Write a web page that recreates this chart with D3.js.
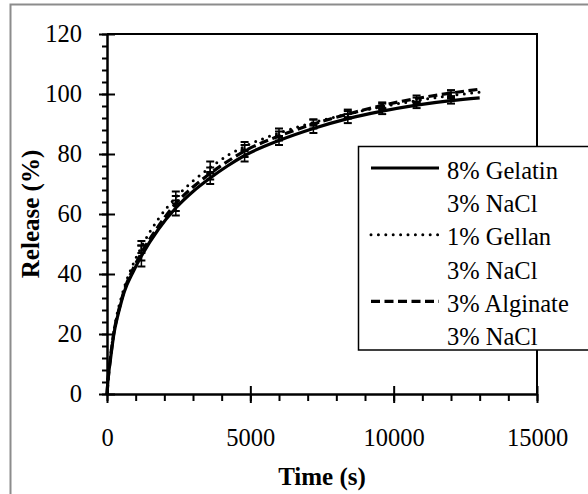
<!DOCTYPE html>
<html>
<head>
<meta charset="utf-8">
<script src="https://cdn.jsdelivr.net/npm/d3@7"></script>
<style>
  body { margin: 0; background: #fff; }
</style>
</head>
<body>
<div id="chart"></div>
<script>
// data
const times = [0, 30, 60, 120, 240, 360, 480, 600, 900, 1200, 1800, 2400, 3000, 3600, 4200, 4800, 6000, 7200, 8400, 9600, 10800, 12000, 13000];
const gelatin  = [0, 4, 7, 11.5, 20, 25.5, 30, 34, 40.5, 46, 55, 62, 67.5, 72, 76, 79.5, 84.5, 88.5, 91.8, 94.3, 96.3, 97.8, 98.7];
const gellan   = [0, 4.5, 7.5, 12.5, 21, 27, 31.5, 35.5, 43, 49, 58.5, 65.5, 71, 75.5, 79.5, 82.5, 87, 90.5, 93.3, 95.8, 97.8, 99.5, 100.6];
const alginate = [0, 4, 7, 12, 20.5, 26, 30.5, 34.5, 41.5, 47, 56, 63.5, 69, 73.5, 77.5, 81, 86, 90, 93.3, 96.2, 98.5, 100.3, 101.6];

const errTimes = [1200, 2400, 3600, 4800, 6000, 7200, 8400, 9600, 10800, 12000];
const gelatinErr  = [3.5, 2.5, 2, 2, 1.5, 1.5, 1.5, 1, 1, 1];
const gellanErr   = [2, 2, 2, 1.5, 1.5, 1, 1, 1, 1, 1];
const alginateErr = [2.5, 2.5, 2, 2, 1.5, 1.5, 1.5, 1, 1, 1];

const legendLabels = [["8% Gelatin", "3% NaCl"], ["1% Gellan", "3% NaCl"], ["3% Alginate", "3% NaCl"]];
const xTicks = [0, 5000, 10000, 15000];
const yTicks = [0, 20, 40, 60, 80, 100, 120];

const FONT = "Liberation Serif, Times New Roman, Times, serif";

const W = 588, H = 494;
const margin = {top: 34, right: 51, bottom: 100, left: 107};
const width = W - margin.left - margin.right,
      height = H - margin.top - margin.bottom;

const root = d3.select("#chart").append("svg")
    .attr("width", W)
    .attr("height", H);

// grey outer frame
root.append("rect")
    .attr("x", 10.5).attr("y", 4.5)
    .attr("width", 600).attr("height", 600)
    .attr("fill", "none")
    .attr("stroke", "#8c8c8c")
    .attr("stroke-width", 2);

const svg = root.append("g")
    .attr("transform", `translate(${margin.left},${margin.top})`);

const x = d3.scaleLinear().domain([0, 15000]).range([0, width]);
const y = d3.scaleLinear().domain([0, 120]).range([height, 0]);

// plot frame (top + right)
svg.append("path")
    .attr("d", `M0,0H${width}V${height}`)
    .attr("fill", "none")
    .attr("stroke", "#000")
    .attr("stroke-width", 2);

// minor ticks
svg.append("g")
    .call(d3.axisLeft(y).tickValues(d3.range(0, 121, 4)).tickSize(5).tickFormat(""))
    .call(g => g.select(".domain").remove())
    .selectAll("line").attr("stroke-width", 2);
svg.append("g")
    .attr("transform", `translate(0,${height})`)
    .call(d3.axisBottom(x).tickValues(d3.range(0, 15001, 1000)).tickSize(7).tickFormat(""))
    .call(g => g.select(".domain").remove())
    .selectAll("line").attr("stroke-width", 2);

// major ticks, crossing the axis
svg.append("g")
    .call(d3.axisRight(y).tickValues(yTicks).tickSize(8).tickFormat(""))
    .call(g => g.select(".domain").remove())
    .selectAll("line").attr("stroke-width", 2);
svg.append("g")
    .attr("transform", `translate(0,${height})`)
    .call(d3.axisTop(x).tickValues(xTicks).tickSize(8).tickFormat(""))
    .call(g => g.select(".domain").remove())
    .selectAll("line").attr("stroke-width", 2);

const yAxis = svg.append("g")
    .call(d3.axisLeft(y).tickValues(yTicks).tickSize(8).tickSizeOuter(0).tickPadding(17));
yAxis.attr("font-family", null).attr("font-size", null);
yAxis.selectAll("text").style("font-family", FONT).style("font-size", "24.5px").style("font-weight", "500");
yAxis.select(".domain").attr("stroke-width", 2.5);
yAxis.selectAll("line").attr("stroke-width", 2);

const xAxis = svg.append("g")
    .attr("transform", `translate(0,${height})`)
    .call(d3.axisBottom(x).tickValues(xTicks).tickFormat(d3.format("d"))
        .tickSize(9).tickSizeOuter(0).tickPadding(26));
xAxis.attr("font-family", null).attr("font-size", null);
xAxis.selectAll("text").style("font-family", FONT).style("font-size", "24.5px").style("font-weight", "500");
xAxis.select(".domain").attr("stroke-width", 2.5);
xAxis.selectAll("line").attr("stroke-width", 2);

// axis titles
svg.append("text")
    .attr("x", width / 2)
    .attr("y", height + 91)
    .attr("text-anchor", "middle")
    .style("font-family", FONT)
    .style("font-size", "25px")
    .style("font-weight", "bold")
    .text("Time (s)");

svg.append("text")
    .attr("transform", `translate(${39 - margin.left},${height / 2}) rotate(-90)`)
    .attr("text-anchor", "middle")
    .style("font-family", FONT)
    .style("font-size", "25px")
    .style("font-weight", "bold")
    .text("Release (%)");

// series
const series = [
    {vals: gelatin, err: gelatinErr, dash: null, cap: "butt", sw: 3.2},
    {vals: gellan, err: gellanErr, dash: "0,7.4", cap: "round", sw: 3},
    {vals: alginate, err: alginateErr, dash: "9,4.5", cap: "butt", sw: 3.2}
];

const line = d3.line()
    .curve(d3.curveMonotoneX)
    .x((d, i) => x(times[i]))
    .y(d => y(d));

series.forEach(s => {
    svg.append("path")
        .datum(s.vals)
        .attr("fill", "none")
        .attr("stroke", "#000")
        .attr("stroke-width", s.sw)
        .attr("stroke-linecap", s.cap)
        .attr("stroke-dasharray", s.dash)
        .attr("d", line);

    const bars = svg.append("g");
    errTimes.forEach((t, i) => {
        const v = s.vals[times.indexOf(t)];
        const e = s.err[i];
        const cx = x(t);
        bars.append("line")
            .attr("x1", cx).attr("x2", cx)
            .attr("y1", y(v - e)).attr("y2", y(v + e))
            .attr("stroke", "#000").attr("stroke-width", 1.5);
        [v - e, v + e].forEach(c => {
            bars.append("line")
                .attr("x1", cx - 4).attr("x2", cx + 4)
                .attr("y1", y(c)).attr("y2", y(c))
                .attr("stroke", "#000").attr("stroke-width", 2);
        });
    });
});

// legend
const lg = root.append("g");
lg.append("rect")
    .attr("x", 358.5).attr("y", 146.5)
    .attr("width", 240).attr("height", 203.5)
    .attr("fill", "#fff")
    .attr("stroke", "#000")
    .attr("stroke-width", 1.5);

series.forEach((s, i) => {
    const cy = 170 + i * 66.7;
    lg.append("line")
        .attr("x1", 371).attr("x2", 439)
        .attr("y1", cy - 2).attr("y2", cy - 2)
        .attr("stroke", "#000")
        .attr("stroke-width", s.sw)
        .attr("stroke-linecap", s.cap)
        .attr("stroke-dasharray", s.dash);
    legendLabels[i].forEach((t, j) => {
        lg.append("text")
            .attr("x", 447)
            .attr("y", cy + j * 33.4 + 8.5)
            .style("font-family", FONT)
            .style("font-size", "24.5px")
            .style("font-weight", "500")
            .text(t);
    });
});
</script>
</body>
</html>
